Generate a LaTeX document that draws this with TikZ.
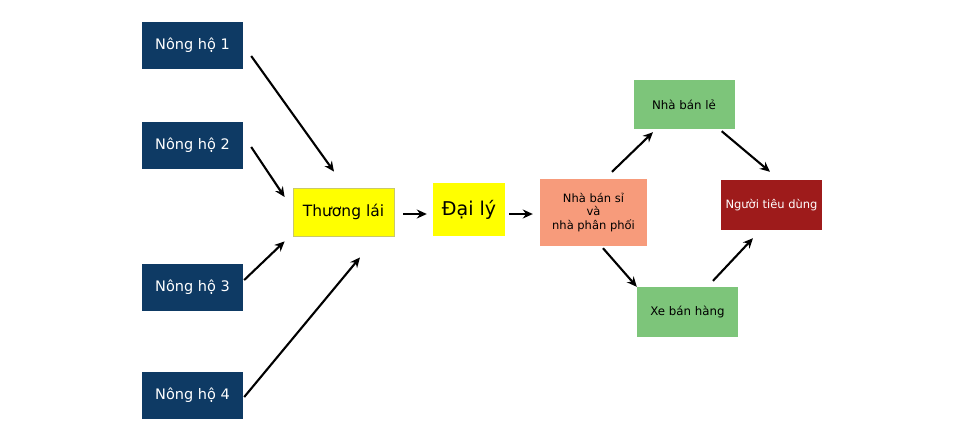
\documentclass[tikz,border=0pt]{standalone}
\usepackage{fontspec}
\setmainfont{DejaVu Sans}
\usetikzlibrary{arrows.meta}
\definecolor{navy}{HTML}{0E3A64}
\definecolor{salmon}{HTML}{F79B7B}
\definecolor{leaf}{HTML}{7DC57A}
\definecolor{wine}{HTML}{9E1B1B}
\definecolor{yel}{HTML}{FFFF00}
\definecolor{yelborder}{HTML}{C9C86A}
\begin{document}
\begin{tikzpicture}[x=1pt,y=-1pt,
  box/.style={rectangle,inner sep=0pt,align=center},
  farm/.style={box,fill=navy,text=white,minimum width=101pt,minimum height=47pt,font=\fontsize{14.5}{17}\selectfont},
  yelbox/.style={box,fill=yel,text=black},
  grn/.style={box,fill=leaf,text=black,minimum width=101pt,minimum height=49pt,font=\fontsize{11.8}{14}\selectfont},
  arr/.style={-{Stealth[length=10pt,width=9pt]},line width=2.1pt,black}]
\useasboundingbox (0,0) rectangle (966,437);
\fill[white] (0,0) rectangle (966,437);
\node[farm] (n1) at (192.5,45.5) {Nông hộ 1};
\node[farm] (n2) at (192.5,145) {Nông hộ 2};
\node[farm] (n3) at (192.5,287.5) {Nông hộ 3};
\node[farm] (n4) at (192.5,395.5) {Nông hộ 4};
\node[yelbox,draw=yelborder,line width=0.8pt,minimum width=101pt,minimum height=48pt,font=\fontsize{15.5}{18}\selectfont] (tl) at (343.5,212) {Thương lái};
\node[yelbox,minimum width=72pt,minimum height=53pt,font=\fontsize{19}{22}\selectfont] (dl) at (469,209.5) {Đại lý};
\node[box,fill=salmon,text=black,minimum width=107pt,minimum height=67pt,font=\fontsize{11.5}{13.7}\selectfont] (si) at (593.5,212.5) {Nhà bán sỉ\\và\\nhà phân phối};
\node[grn] (le) at (684,104.5) {Nhà bán lẻ};
\node[box,fill=wine,text=white,minimum width=101pt,minimum height=50pt,font=\fontsize{11.5}{14}\selectfont] (td) at (771.5,205) {Người tiêu dùng};
\node[grn,minimum height=50pt] (xe) at (687.5,312) {Xe bán hàng};
\draw[arr] ([shift={(8,10.5)}]n1.east) -- ([shift={(-9.5,-16)}]tl.north);
\draw[arr] ([shift={(8,2)}]n2.east) -- ([shift={(-8,-15)}]tl.west);
\draw[arr] ([shift={(1,-7.5)}]n3.east) -- ([shift={(-8,5)}]tl.south west);
\draw[arr] ([shift={(1,1.5)}]n4.east) -- ([shift={(16.5,21)}]tl.south);
\draw[arr] ([shift={(9,2)}]tl.east) -- ([shift={(-6,4.5)}]dl.west);
\draw[arr] ([shift={(4,4.5)}]dl.east) -- ([shift={(-7,1.5)}]si.west);
\draw[arr] ([shift={(18.5,-7)}]si.north) -- ([shift={(-31,3)}]le.south);
\draw[arr] ([shift={(-13,2)}]le.south east) -- ([shift={(-1.5,-8)}]td.north);
\draw[arr] ([shift={(9.5,2)}]si.south) -- ([shift={(0,0)}]xe.north west);
\draw[arr] ([shift={(25.5,-6)}]xe.north) -- ([shift={(-18.5,8)}]td.south);
\end{tikzpicture}
\end{document}
